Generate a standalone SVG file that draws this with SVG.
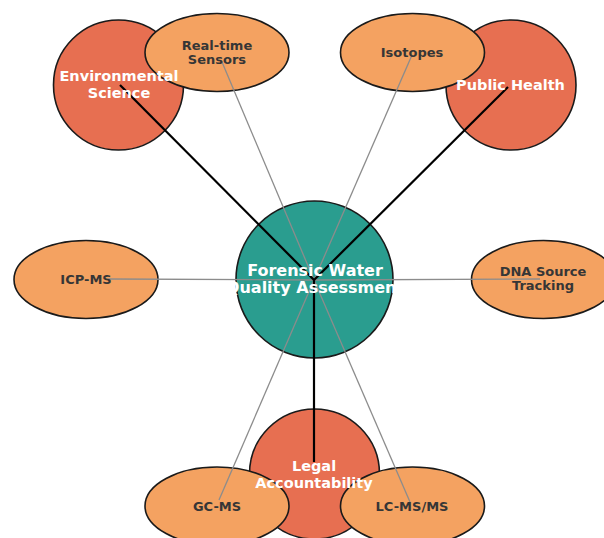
<svg xmlns="http://www.w3.org/2000/svg" width="604" height="538" viewBox="0 0 604 538">
<style>
text{font-family:"DejaVu Sans","Liberation Sans",sans-serif;font-weight:bold;text-anchor:middle}
.hub{fill:#2a9d8f;stroke:#1a1a1a;stroke-width:1.6}
.field{fill:#e76f51;stroke:#1a1a1a;stroke-width:1.6}
.tech{fill:#f4a261;stroke:#1a1a1a;stroke-width:1.6}
.w16{fill:#ffffff;font-size:16px}
.w14{fill:#ffffff;font-size:14.5px}
.d12{fill:#363636;font-size:13px}
.strong{stroke:#000000;stroke-width:2.2;fill:none}
.weak{stroke:#8c8c8c;stroke-width:1.3;fill:none}
</style>
<rect width="604" height="538" fill="#ffffff"/>
<g id="node-center"><circle class="hub" cx="314.5" cy="279.5" r="78.5"/></g>
<g id="node-env"><circle class="field" cx="118.5" cy="85" r="65"/></g>
<g id="node-public"><circle class="field" cx="511" cy="85" r="65"/></g>
<g id="node-legal"><circle class="field" cx="314.5" cy="474" r="65"/></g>
<g id="node-sensors"><ellipse class="tech" cx="217" cy="52.5" rx="72" ry="39"/></g>
<g id="node-isotopes"><ellipse class="tech" cx="412.5" cy="52.5" rx="72" ry="39"/></g>
<g id="node-icpms"><ellipse class="tech" cx="86" cy="279.5" rx="72" ry="39"/></g>
<g id="node-dna"><ellipse class="tech" cx="543.5" cy="279.5" rx="72" ry="39"/></g>
<g id="node-gcms"><ellipse class="tech" cx="217" cy="506" rx="72" ry="39"/></g>
<g id="node-lcms"><ellipse class="tech" cx="412.5" cy="506" rx="72" ry="39"/></g>
<g id="connectors">
<line class="weak" x1="314" y1="280" x2="222" y2="62"/>
<line class="weak" x1="314" y1="280" x2="412" y2="55"/>
<line class="weak" x1="314" y1="280" x2="108" y2="279"/>
<line class="weak" x1="314" y1="280" x2="540" y2="279"/>
<line class="weak" x1="314" y1="280" x2="219" y2="500"/>
<line class="weak" x1="314" y1="280" x2="410" y2="502"/>
<line class="strong" x1="314" y1="280" x2="120" y2="85"/>
<line class="strong" x1="314" y1="280" x2="508" y2="87"/>
<line class="strong" x1="314" y1="280" x2="314" y2="462"/>
</g>
<g id="labels">
<text class="w16" x="315" y="275.5">Forensic Water</text>
<text class="w16" x="315" y="293">Quality Assessment</text>
<text class="w14" x="119" y="81">Environmental</text>
<text class="w14" x="119" y="98">Science</text>
<text class="w14" x="510.5" y="90">Public Health</text>
<text class="w14" x="314" y="471">Legal</text>
<text class="w14" x="314" y="487.5">Accountability</text>
<text class="d12" x="217" y="50">Real-time</text>
<text class="d12" x="217" y="63.5">Sensors</text>
<text class="d12" x="412" y="56.5">Isotopes</text>
<text class="d12" x="86" y="284">ICP-MS</text>
<text class="d12" x="543" y="275.5">DNA Source</text>
<text class="d12" x="543" y="290">Tracking</text>
<text class="d12" x="217" y="510.5">GC-MS</text>
<text class="d12" x="412" y="510.5">LC-MS/MS</text>
</g>
</svg>
